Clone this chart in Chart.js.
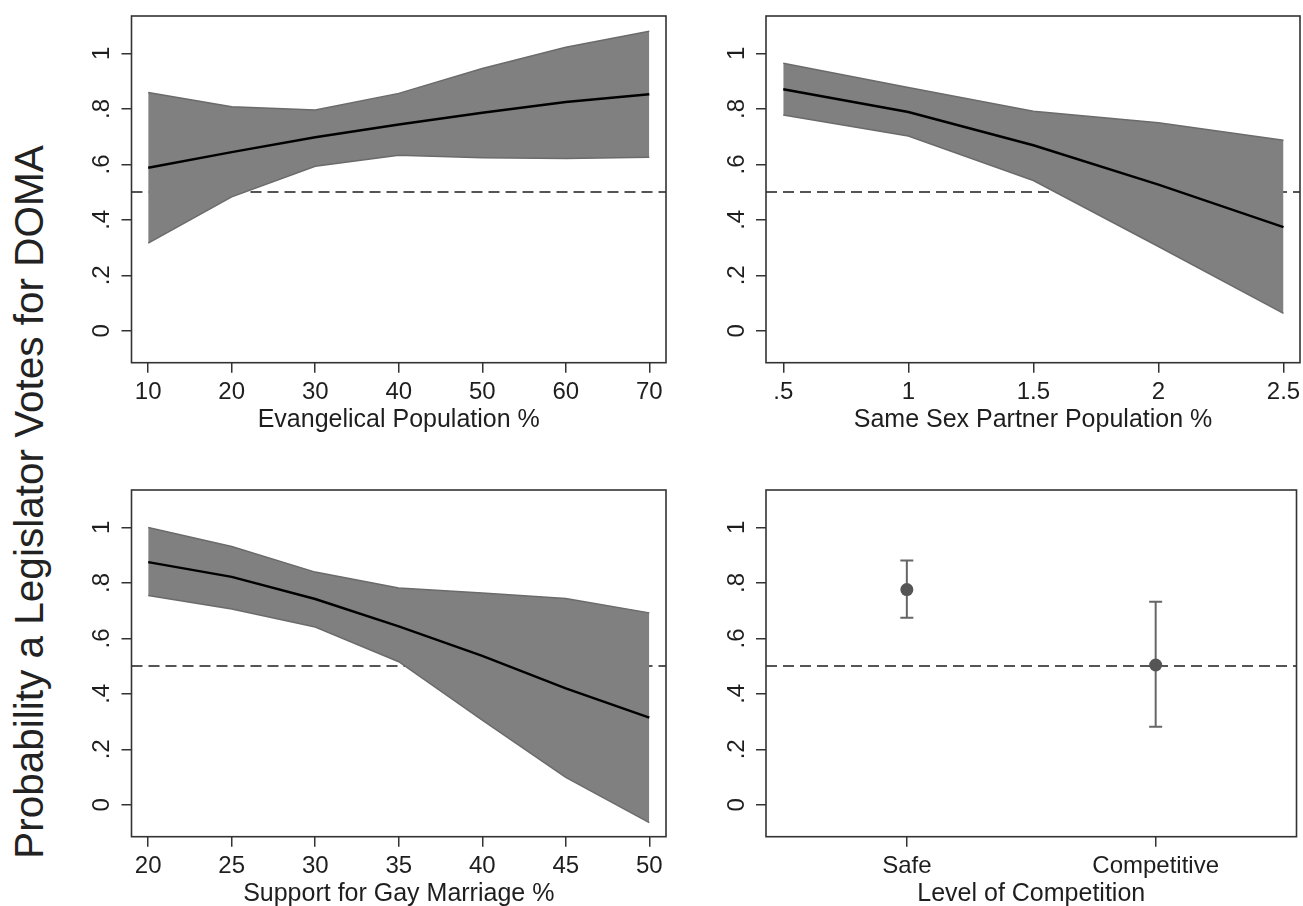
<!DOCTYPE html>
<html>
<head>
<meta charset="utf-8">
<script src="https://cdn.jsdelivr.net/npm/chart.js@4.4.1/dist/chart.umd.min.js"></script>
<style>
  html, body { margin: 0; padding: 0; background: #fff; overflow: hidden; width: 1303px; height: 906px; }
  .panel { position: absolute; }
  #ytitle {
    position: absolute; left: -371px; top: 482px; width: 800px; height: 40px;
    line-height: 40px; text-align: center; white-space: nowrap;
    font-family: "Liberation Sans", Arial, sans-serif; font-size: 40.5px; color: #222;
    transform: rotate(-90deg); transform-origin: 50% 50%;
  }
</style>
</head>
<body>
<div id="ytitle">Probability a Legislator Votes for DOMA</div>
<canvas id="c1" class="panel" width="640" height="445" style="left:40px;top:0px;width:640px;height:445px"></canvas>
<canvas id="c2" class="panel" width="613" height="445" style="left:690px;top:0px;width:613px;height:445px"></canvas>
<canvas id="c3" class="panel" width="640" height="445" style="left:40px;top:474px;width:640px;height:445px"></canvas>
<canvas id="c4" class="panel" width="613" height="445" style="left:690px;top:474px;width:613px;height:445px"></canvas>
<script>
// ---------------- data ----------------
const evangX     = [10, 20, 30, 40, 50, 60, 70];
const evangFit   = [0.588, 0.644, 0.698, 0.744, 0.786, 0.825, 0.853];
const evangUpper = [0.859, 0.808, 0.796, 0.856, 0.946, 1.022, 1.080];
const evangLower = [0.316, 0.483, 0.593, 0.633, 0.624, 0.621, 0.626];
const evangTickLabels = ['10', '20', '30', '40', '50', '60', '70'];

const partnerX     = [0.5, 1, 1.5, 2, 2.5];
const partnerFit   = [0.871, 0.789, 0.669, 0.527, 0.374];
const partnerUpper = [0.965, 0.877, 0.792, 0.750, 0.687];
const partnerLower = [0.778, 0.702, 0.542, 0.304, 0.063];
const partnerTickLabels = ['.5', '1', '1.5', '2', '2.5'];

const supportX     = [20, 25, 30, 35, 40, 45, 50];
const supportFit   = [0.875, 0.822, 0.742, 0.643, 0.537, 0.420, 0.314];
const supportUpper = [1.000, 0.931, 0.839, 0.782, 0.764, 0.744, 0.692];
const supportLower = [0.755, 0.706, 0.641, 0.516, 0.305, 0.099, -0.064];
const supportTickLabels = ['20', '25', '30', '35', '40', '45', '50'];

const competitionLabels = ['Safe', 'Competitive'];
const competitionX     = [1, 2];
const competitionFit   = [0.776, 0.504];
const competitionLower = [0.674, 0.281];
const competitionUpper = [0.881, 0.732];

const yTickValues = [0, 0.2, 0.4, 0.6, 0.8, 1];
const yTickLabels = ['0', '.2', '.4', '.6', '.8', '1'];
const threshold = 0.5;

// ---------------- helpers ----------------
const FONT = '"Liberation Sans", Arial, Helvetica, sans-serif';
const INK = '#1e1e1e';
const FRAME = '#333';

function pts(xs, ys) { return xs.map((x, i) => ({ x: x, y: ys[i] })); }

const framePlugin = {
  id: 'frame',
  beforeDatasetsDraw(chart) {
    const { ctx, chartArea: a, scales: { x, y } } = chart;
    const py = y.getPixelForValue(threshold);
    ctx.save();
    ctx.setLineDash([11, 6]);
    ctx.strokeStyle = '#555';
    ctx.lineWidth = 2;
    ctx.beginPath();
    ctx.moveTo(a.left, py);
    ctx.lineTo(a.right, py);
    ctx.stroke();
    ctx.restore();
    const eb = chart.options.plugins.frame && chart.options.plugins.frame.errorBars;
    if (eb) {
      ctx.save();
      ctx.strokeStyle = '#666';
      ctx.lineWidth = 2;
      eb.x.forEach((xv, i) => {
        const px = x.getPixelForValue(xv);
        const lo = y.getPixelForValue(eb.lo[i]);
        const hi = y.getPixelForValue(eb.hi[i]);
        ctx.beginPath();
        ctx.moveTo(px, lo); ctx.lineTo(px, hi);
        ctx.moveTo(px - 6.5, lo); ctx.lineTo(px + 6.5, lo);
        ctx.moveTo(px - 6.5, hi); ctx.lineTo(px + 6.5, hi);
        ctx.stroke();
      });
      ctx.restore();
    }
  },
  afterDraw(chart) {
    const { ctx, chartArea: a } = chart;
    ctx.save();
    ctx.strokeStyle = FRAME;
    ctx.lineWidth = 1.6;
    ctx.strokeRect(a.left, a.top, a.right - a.left, a.bottom - a.top);
    ctx.restore();
  }
};

function bandDatasets(xs, fit, lo, hi) {
  return [
    { data: pts(xs, hi), order: 2, borderColor: '#6b6b6b', borderWidth: 1.5, backgroundColor: '#808080', fill: '+1', pointRadius: 0, tension: 0 },
    { data: pts(xs, lo), order: 1, borderColor: '#6b6b6b', borderWidth: 1.5, fill: false, pointRadius: 0, tension: 0 },
    { data: pts(xs, fit), order: 0, borderColor: '#000', borderWidth: 2.4, fill: false, pointRadius: 0, tension: 0 }
  ];
}

function makeChart(id, cfg) {
  return new Chart(document.getElementById(id), {
    type: 'line',
    data: { datasets: cfg.datasets },
    options: {
      responsive: false,
      animation: false,
      devicePixelRatio: 1,
      layout: { padding: { top: 16, right: cfg.rightPad, left: 0, bottom: 0 } },
      plugins: {
        legend: { display: false },
        tooltip: { enabled: false },
        frame: { errorBars: cfg.errorBars || null }
      },
      scales: {
        x: {
          type: 'linear',
          min: cfg.xMin, max: cfg.xMax,
          afterBuildTicks: s => { s.ticks = cfg.xTicks.map(v => ({ value: v })); },
          afterFit: s => { s.height = 82.3; s.paddingLeft = 0; s.paddingRight = 0; },
          ticks: {
            autoSkip: false, minRotation: 0, maxRotation: 0, padding: 5,
            color: INK, font: { family: FONT, size: 24 },
            callback: v => cfg.xTickLabels[cfg.xTicks.indexOf(v)]
          },
          grid: { drawOnChartArea: false, drawTicks: true, tickLength: 10, color: FRAME, lineWidth: 1.5 },
          border: { display: false },
          title: { display: true, text: cfg.xTitle, color: INK, font: { family: FONT, size: 25 }, padding: { top: 0, bottom: 10 } }
        },
        y: {
          type: 'linear',
          min: -0.115, max: 1.135,
          afterBuildTicks: s => { s.ticks = yTickValues.map(v => ({ value: v })); },
          afterFit: s => { s.width = cfg.yAxisW; s.paddingTop = 0; s.paddingBottom = 0; },
          ticks: {
            autoSkip: false, minRotation: 90, maxRotation: 90, crossAlign: 'center', padding: 9,
            color: INK, font: { family: FONT, size: 24 },
            callback: v => yTickLabels[yTickValues.indexOf(v)]
          },
          grid: { drawOnChartArea: false, drawTicks: true, tickLength: 10, color: FRAME, lineWidth: 1.5 },
          border: { display: false }
        }
      }
    },
    plugins: [framePlugin]
  });
}

makeChart('c1', {
  xMin: 8, xMax: 72, xTicks: evangX, xTickLabels: evangTickLabels,
  xTitle: 'Evangelical Population %', yAxisW: 91.5, rightPad: 14,
  datasets: bandDatasets(evangX, evangFit, evangLower, evangUpper)
});
makeChart('c2', {
  xMin: 0.431, xMax: 2.566, xTicks: partnerX, xTickLabels: partnerTickLabels,
  xTitle: 'Same Sex Partner Population %', yAxisW: 76, rightPad: 3,
  datasets: bandDatasets(partnerX, partnerFit, partnerLower, partnerUpper)
});
makeChart('c3', {
  xMin: 19, xMax: 51, xTicks: supportX, xTickLabels: supportTickLabels,
  xTitle: 'Support for Gay Marriage %', yAxisW: 91.5, rightPad: 14,
  datasets: bandDatasets(supportX, supportFit, supportLower, supportUpper)
});
makeChart('c4', {
  xMin: 0.434, xMax: 2.566, xTicks: competitionX, xTickLabels: competitionLabels,
  xTitle: 'Level of Competition', yAxisW: 76, rightPad: 3,
  errorBars: { x: competitionX, lo: competitionLower, hi: competitionUpper },
  datasets: [
    { data: pts(competitionX, competitionFit), showLine: false, pointRadius: 6.5, pointBackgroundColor: '#555', pointBorderColor: '#555', pointBorderWidth: 0 }
  ]
});
</script>
</body>
</html>
